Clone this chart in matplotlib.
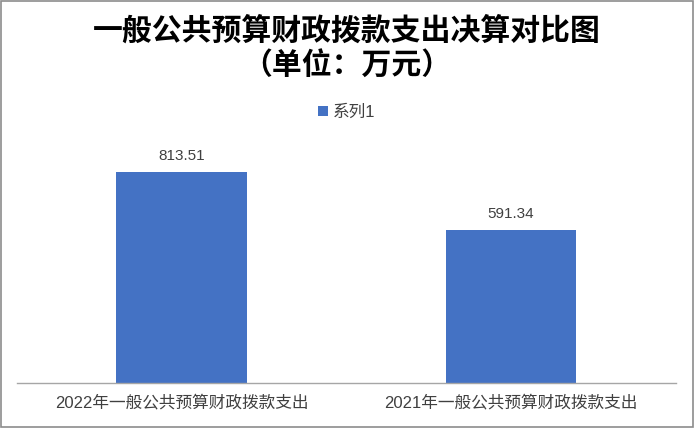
import matplotlib
matplotlib.use('Agg')
import matplotlib.pyplot as plt
from matplotlib.patches import Rectangle

plt.rcParams['font.family'] = ['Liberation Sans', 'Noto Sans CJK SC', 'DejaVu Sans']

# data
categories = ['2022年一般公共预算财政拨款支出', '2021年一般公共预算财政拨款支出']
values = [813.51, 591.34]
series_name = '系列1'
title = '一般公共预算财政拨款支出决算对比图\n（单位：万元）'

fig = plt.figure(figsize=(6.94, 4.28), dpi=100)
ax = fig.add_axes([0.024, 0.1051, 0.9494, 0.5444])

bars = ax.bar(range(len(values)), values, width=0.396, color='#4472C4', label=series_name)
ax.set_xlim(-0.5, len(values) - 0.5)
ax.set_ylim(0, 900)

for b, v in zip(bars, values):
    ax.text(b.get_x() + b.get_width() / 2, v + 35, f'{v:.2f}', ha='center', va='bottom',
            fontsize=11, color='#404040')

ax.set_xticks(range(len(values)))
ax.set_xticklabels(categories, fontsize=12, color='#404040')
ax.tick_params(axis='x', length=0, pad=8)
ax.set_yticks([])
for s in ['top', 'right', 'left']:
    ax.spines[s].set_visible(False)
ax.spines['bottom'].set_color('#A6A6A6')
ax.spines['bottom'].set_linewidth(1)

fig.text(0.5, 0.887, title, ha='center', va='center', fontsize=21.5, fontweight='bold',
         linespacing=1.22, family=['Noto Sans CJK SC', 'DejaVu Sans'])

fig.legend(handles=[bars], labels=[series_name], loc='center', bbox_to_anchor=(0.5, 0.738),
           frameon=False, fontsize=12, handlelength=0.6, handleheight=0.6, handletextpad=0.3,
           labelcolor='#404040')

fig.patches.append(Rectangle((0.002, 0.003), 0.996, 0.994, transform=fig.transFigure,
                             fill=False, edgecolor='#8C8C8C', linewidth=1.2))

fig.savefig('out.png', dpi=100)
